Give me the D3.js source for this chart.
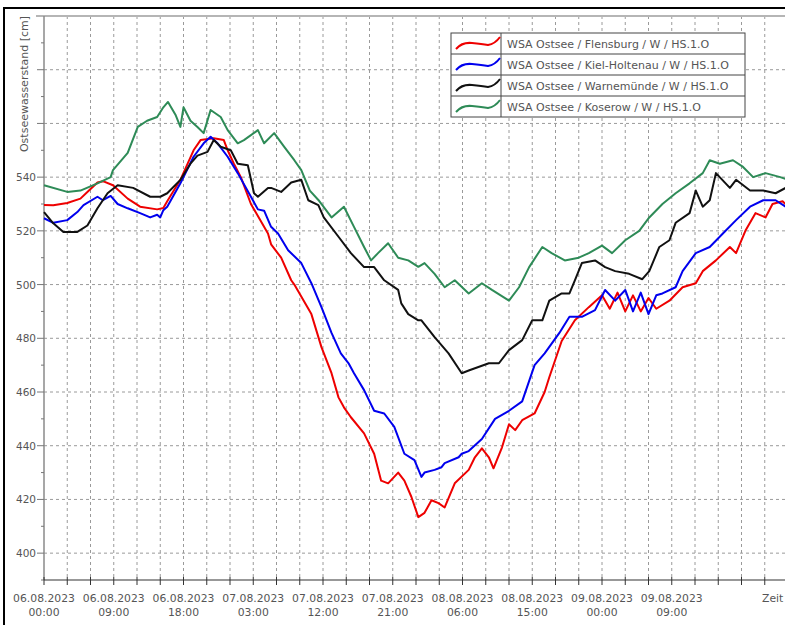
<!DOCTYPE html>
<html>
<head>
<meta charset="utf-8">
<script src="https://cdn.jsdelivr.net/npm/d3@7"></script>
<style>
  body { margin: 0; background: #fff; }
  svg { display: block; font-family: "DejaVu Sans", Verdana, sans-serif; }
</style>
</head>
<body>
<div id="chart"></div>
<script>
// hours after 06.08.2023 00:00, water level in cm
const flensburg = [
  [0,529.6],[1.2,529.5],[3.0,530.4],[4.7,532],[5.8,535],[6.9,538],[7.6,538.5],[8.9,537],[10.8,532],[12.4,529],
  [14.6,528],[15.4,528.5],[15.9,531],[17.6,539],[19.3,550],[20.2,553.8],[21.9,554.5],[23.2,553.8],[23.7,550],[24.5,545],
  [25.4,540],[26.7,530],[28.9,519],[29.3,515],[30.6,510],[31.9,501.6],[32.3,500],[34.5,489],[35.8,476.7],[37.1,467],
  [38.0,458],[38.7,454.3],[39.6,450.6],[41.3,444.6],[42.6,437],[43.5,427],[44.4,426],[45.7,430],[46.5,427],[47.4,421],
  [48.3,413.4],[49.1,415],[50.0,419.7],[50.9,418.6],[51.7,417],[53.0,426],[54.8,431],[55.6,435.7],[56.5,439],[57.4,435.7],
  [58.0,431.6],[59.1,439.4],[60.0,448],[60.8,445.8],[61.7,449.5],[63.3,452],[64.6,460],[65.2,465.5],[66.8,479],[68.5,486.7],
  [70.3,491.6],[72.0,496],[73.0,491],[74.0,497],[75.0,490],[76.0,496],[77.0,490],[78.0,495],[79.0,491],[80.7,494],
  [82.4,499],[84.1,500.5],[85.0,505],[86.7,509],[88.5,514],[89.3,511.7],[90.5,520],[91.8,526.6],[93.1,525],[94.0,530],
  [95.3,531],[96,529]
];
const kielHoltenau = [
  [0,524.7],[1.2,523],[3.0,524],[4.3,527],[5.1,529.6],[6.9,532.7],[7.6,531.4],[8.6,533],[9.5,530],[10.8,528.4],
  [12.4,526.6],[13.7,525],[14.6,526],[15.0,525],[15.4,527.7],[15.9,529],[17.6,537.7],[19.3,547.6],[20.6,552.6],[21.5,555],
  [22.4,552.6],[23.7,547.6],[25.0,541.5],[26.7,532.7],[27.6,528],[28.4,527.5],[29.3,521.5],[30.2,519],[31.5,512.8],[33.2,508],
  [34.5,500.5],[35.8,491.6],[37.1,482],[38.3,474.4],[39.3,470.7],[40.0,467],[41.3,460.7],[42.6,453],[43.9,452],[45.2,447],
  [46.5,437],[47.8,434.6],[48.7,428.4],[49.1,430],[50.4,431],[51.3,432],[51.7,433.5],[53.5,435.7],[53.9,437],[54.8,438],
  [56.5,442.5],[58.2,450],[60.0,453],[61.7,456.5],[63.3,470],[64.6,474.4],[66.5,482],[67.8,488],[69.4,488],[71.1,490.5],
  [72.4,498],[73.7,494],[75.0,498],[76.0,490],[77.0,497],[78.0,489],[79.0,496],[79.8,496.7],[81.5,499],[82.4,505],
  [84.1,511.7],[85.9,514],[87.6,519],[89.3,524],[91.1,529],[92.8,531.4],[94.4,531.4],[95.7,529],[96,528]
];
const warnemuende = [
  [0,527],[1.2,522.8],[2.5,519.6],[4.3,519.6],[5.6,522],[6.9,528.4],[8.2,534],[9.5,537],[11.5,536],[13.7,532.7],
  [15.0,532.7],[15.9,534],[17.6,539],[18.9,545],[19.8,548],[21.1,549.4],[21.9,553.8],[22.8,551.3],[24.1,550],[25.0,545],
  [26.3,544.4],[27.1,534],[27.6,532.7],[28.9,536],[29.3,536],[30.6,534.5],[31.9,538],[33.2,539],[34.1,531.4],[35.4,529.6],
  [36.1,525],[38.0,517.8],[39.6,511.7],[41.3,506.5],[42.6,506.5],[43.9,501.6],[45.7,498],[46.1,493],[47.0,489],[48.3,486.7],
  [48.7,486.7],[50.4,480.4],[52.2,474.4],[53.9,467],[54.8,468],[57.4,470.7],[58.7,470.7],[60.0,475.6],[61.7,479.3],[63.0,486.7],
  [64.3,486.7],[65.2,494],[66.8,496.7],[67.8,496.7],[68.5,501.6],[69.4,508],[71.1,509],[72.4,506.5],[73.7,505],[75.5,504],
  [77.2,502],[78.1,505],[79.4,514],[80.7,516.5],[81.5,523],[83.3,526.6],[84.1,535],[85.0,529],[85.9,531.4],[86.7,541.5],
  [88.5,536],[89.3,539],[91.1,535],[92.8,535],[94.4,534],[95.7,536],[96,536]
];
const koserow = [
  [0,537],[3.0,534.5],[4.7,535],[6.9,537.7],[8.6,540],[8.9,542.6],[10.8,549],[12.1,558.7],[13.3,561],[14.6,562.4],
  [15.4,566],[16.0,568],[17.0,563],[17.6,558.7],[18.0,566],[18.9,561],[19.8,558.7],[20.6,556.4],[21.5,565],[22.8,562.4],
  [23.7,557.5],[25.0,552.6],[25.8,553.8],[27.6,557.5],[28.4,552.6],[29.7,556.4],[31.0,551.3],[32.3,546.3],[33.2,542.6],[34.3,535],
  [35.4,531.5],[37.1,525],[38.7,529],[40.0,521.5],[41.3,514],[42.2,509],[43.1,511.7],[44.4,515.4],[45.7,510],[47.0,509],
  [48.3,506.6],[49.1,508],[50.4,504],[51.7,499],[53.0,501.6],[54.8,496.7],[56.5,500.5],[57.8,498],[60.0,494],[61.3,499],
  [62.6,506.5],[64.3,514],[65.5,511.7],[67.2,509],[69.0,510],[70.3,511.7],[72.0,514.5],[73.3,511.7],[75.0,516.5],[76.8,520],
  [78.1,525],[79.8,530],[81.5,534],[83.3,537.7],[85.0,541.5],[85.9,546.3],[87.2,545],[88.9,546.3],[90.2,543.8],[91.5,540],
  [93.1,541.5],[95.0,540],[96,539]
];

const seriesNames = [
  "WSA Ostsee / Flensburg / W / HS.1.O",
  "WSA Ostsee / Kiel-Holtenau / W / HS.1.O",
  "WSA Ostsee / Warnemünde / W / HS.1.O",
  "WSA Ostsee / Koserow / W / HS.1.O"
];
const seriesColors = ["#ee0000", "#0000ee", "#111111", "#2e8b57"];
const yLabelTicks = [400, 420, 440, 460, 480, 500, 520, 540];
const yMajorTicks = [400, 420, 440, 460, 480, 500, 520, 540, 560, 580];
const yMinorTicks = [390, 410, 430, 450, 470, 490, 510, 530, 550, 570, 590];
const xTickStepHours = 3;
const xLabelStepHours = 9;

const width = 785, height = 625;
const t0 = new Date(2023, 7, 6, 0, 0);
const hourToDate = h => new Date(t0.getTime() + h * 3600000);

const x = d3.scaleTime()
  .domain([t0, hourToDate(96)])
  .range([44, 788]);
const y = d3.scaleLinear()
  .domain([390, 600])
  .range([580, 16]);

const svg = d3.select("#chart").append("svg")
  .attr("width", width)
  .attr("height", height);

svg.append("rect")
  .attr("x", 4).attr("y", 8)
  .attr("width", 900).attr("height", 800)
  .attr("fill", "#fff")
  .attr("stroke", "#000")
  .attr("stroke-width", 2);

// grid
const xTicks = d3.range(0, 96, xTickStepHours).map(hourToDate);
svg.append("g").selectAll("line")
  .data(xTicks.slice(1))
  .enter().append("line")
  .attr("x1", d => x(d)).attr("x2", d => x(d))
  .attr("y1", y(600)).attr("y2", y(390))
  .attr("stroke", "#9a9a9a")
  .attr("stroke-dasharray", "3,3");

svg.append("g").selectAll("line")
  .data(yMajorTicks)
  .enter().append("line")
  .attr("x1", x(t0)).attr("x2", width)
  .attr("y1", d => y(d)).attr("y2", d => y(d))
  .attr("stroke", "#9a9a9a")
  .attr("stroke-dasharray", "3,3");

// top frame line
svg.append("line")
  .attr("x1", 36).attr("x2", width)
  .attr("y1", y(600)).attr("y2", y(600))
  .attr("stroke", "#b5b5b5")
  .attr("stroke-width", 2);

// y axis
svg.append("line")
  .attr("x1", x(t0)).attr("x2", x(t0))
  .attr("y1", y(600)).attr("y2", y(390))
  .attr("stroke", "#8a8a8a")
  .attr("stroke-width", 1.5);

svg.append("g").selectAll("line")
  .data(yMajorTicks)
  .enter().append("line")
  .attr("x1", x(t0) - 7).attr("x2", x(t0))
  .attr("y1", d => y(d)).attr("y2", d => y(d))
  .attr("stroke", "#777");

svg.append("g").selectAll("line")
  .data(yMinorTicks)
  .enter().append("line")
  .attr("x1", x(t0) - 3).attr("x2", x(t0))
  .attr("y1", d => y(d)).attr("y2", d => y(d))
  .attr("stroke", "#777");

svg.append("g").selectAll("text")
  .data(yLabelTicks)
  .enter().append("text")
  .attr("x", 36)
  .attr("y", d => y(d) + 4)
  .attr("text-anchor", "end")
  .attr("font-size", "10.5px")
  .attr("fill", "#555")
  .text(d => d);

svg.append("text")
  .attr("transform", "translate(28," + y(600) + ") rotate(-90)")
  .attr("text-anchor", "end")
  .attr("font-size", "11px")
  .attr("fill", "#555")
  .text("Ostseewasserstand [cm]");

// x axis
svg.append("line")
  .attr("x1", x(t0)).attr("x2", width)
  .attr("y1", y(390)).attr("y2", y(390))
  .attr("stroke", "#333")
  .attr("stroke-width", 1.2);

svg.append("g").selectAll("line")
  .data(xTicks)
  .enter().append("line")
  .attr("x1", d => x(d)).attr("x2", d => x(d))
  .attr("y1", y(390) - 3).attr("y2", y(390) + 5)
  .attr("stroke", "#333");

const fmtDate = d3.timeFormat("%d.%m.%Y");
const fmtTime = d3.timeFormat("%H:%M");
const xLabels = d3.range(0, 90, xLabelStepHours).map(hourToDate);
const xl = svg.append("g").selectAll("g")
  .data(xLabels)
  .enter().append("g")
  .attr("transform", d => "translate(" + x(d) + ",0)");
xl.append("text")
  .attr("y", 602)
  .attr("text-anchor", "middle")
  .attr("font-size", "10.8px")
  .attr("fill", "#555")
  .text(d => fmtDate(d));
xl.append("text")
  .attr("y", 616)
  .attr("text-anchor", "middle")
  .attr("font-size", "10.8px")
  .attr("fill", "#555")
  .text(d => fmtTime(d));

svg.append("text")
  .attr("x", 762).attr("y", 602)
  .attr("font-size", "10.8px")
  .attr("fill", "#555")
  .text("Zeit");

// lines
const line = d3.line()
  .x(d => x(hourToDate(d[0])))
  .y(d => y(d[1]));

const allSeries = [flensburg, kielHoltenau, warnemuende, koserow];
const drawOrder = [0, 1, 2, 3];
drawOrder.forEach(i => {
  svg.append("path")
    .datum(allSeries[i])
    .attr("fill", "none")
    .attr("stroke", seriesColors[i])
    .attr("stroke-width", 2)
    .attr("stroke-linejoin", "round")
    .attr("d", line);
});

// legend
const lg = { x: 451, y: 33, w: 294, rowH: 21, sampleW: 50 };
const legend = svg.append("g");
legend.append("rect")
  .attr("x", lg.x).attr("y", lg.y)
  .attr("width", lg.w).attr("height", lg.rowH * seriesNames.length)
  .attr("fill", "#fff")
  .attr("stroke", "#444");
legend.append("line")
  .attr("x1", lg.x + lg.sampleW).attr("x2", lg.x + lg.sampleW)
  .attr("y1", lg.y).attr("y2", lg.y + lg.rowH * seriesNames.length)
  .attr("stroke", "#444");
seriesNames.forEach((name, i) => {
  const top = lg.y + i * lg.rowH;
  if (i > 0) {
    legend.append("line")
      .attr("x1", lg.x).attr("x2", lg.x + lg.w)
      .attr("y1", top).attr("y2", top)
      .attr("stroke", "#444");
  }
  const sx = lg.x + 5;
  legend.append("path")
    .attr("d", "M" + sx + "," + (top + 16) +
      " Q" + (sx + 6) + "," + (top + 9) + " " + (sx + 16) + "," + (top + 10) +
      " T" + (sx + 32) + "," + (top + 12) +
      " Q" + (sx + 39) + "," + (top + 11) + " " + (sx + 44) + "," + (top + 4))
    .attr("fill", "none")
    .attr("stroke", seriesColors[i])
    .attr("stroke-width", 2);
  legend.append("text")
    .attr("x", lg.x + lg.sampleW + 6)
    .attr("y", top + 15)
    .attr("font-size", "11px")
    .attr("fill", "#555")
    .text(name);
});
</script>
</body>
</html>
